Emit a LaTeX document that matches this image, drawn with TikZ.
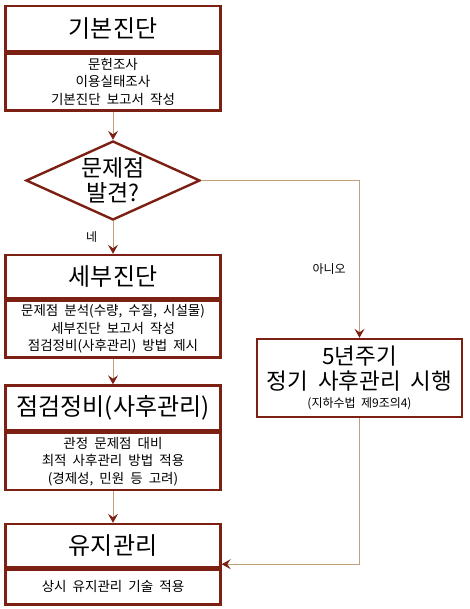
\documentclass[tikz,border=0pt]{standalone}
\usepackage{fontspec}
\setmainfont{Noto Sans CJK KR}[WordSpace=2]
\usetikzlibrary{shapes.geometric,arrows.meta,positioning}

\begin{document}
\begin{tikzpicture}[x=1pt, y=-1pt,
    stagehead/.style={draw=boxred, line width=2.4pt, fill=white, minimum width=215pt, inner sep=0pt, align=center, font=\fontsize{24}{25}\selectfont},
    stagebody/.style={draw=boxred, line width=2.4pt, fill=white, minimum width=215pt, inner sep=0pt, align=center, font=\fontsize{13.5}{17.5}\selectfont},
    flow/.style={draw=linetan, line width=0.9pt, -{Stealth[length=9pt, width=10pt, inset=3.5pt, color=boxred]}},
    flowlabel/.style={font=\fontsize{12}{14}\selectfont}
    ]
    \definecolor{boxred}{RGB}{125, 32, 20}
    \definecolor{linetan}{RGB}{195, 160, 125}
    \def\colx{113}
    \useasboundingbox (0, 0) rectangle (470, 609);
    \node[stagehead, minimum height=45pt] (base) at (\colx, 28.5) {기본진단};
    \node[stagebody, minimum height=57pt, below=0pt of base] (baseText) {문헌조사\\이용실태조사\\기본진단 보고서 작성};
    \node[draw=boxred, line width=2.4pt, shape=diamond, aspect=2.2, minimum width=174pt, minimum height=79pt, inner sep=-4pt, align=center, font=\fontsize{23}{25}\selectfont] (found) at (\colx, 180.5) {문제점\\발견?};
    \node[stagehead, minimum height=43pt] (detail) at (\colx, 276.5) {세부진단};
    \node[stagebody, minimum height=57pt, below=0pt of detail] (detailText) {문제점 분석(수량, 수질, 시설물)\\세부진단 보고서 작성\\점검정비(사후관리) 방법 제시};
    \node[stagehead, minimum height=45pt] (check) at (\colx, 408) {점검정비(사후관리)};
    \node[stagebody, minimum height=57pt, below=0pt of check] (checkText) {관정 문제점 대비\\최적 사후관리 방법 적용\\(경제성, 민원 등 고려)};
    \node[stagehead, minimum height=43pt] (keep) at (\colx, 545.5) {유지관리};
    \node[stagebody, minimum height=35pt, below=0pt of keep] (keepText) {상시 유지관리 기술 적용};
    \node[stagehead, minimum width=205pt, minimum height=78pt, font=\fontsize{22.5}{25}\selectfont] (cycle) at (359.5, 378) {5년주기\\정기 사후관리 시행\\[-7pt]{\fontsize{12}{13}\selectfont (지하수법 제9조의4)}};
    \draw[flow] (baseText) -- (found);
    \draw[flow] (found) -- node[flowlabel, left=12pt] {네} (detail);
    \draw[flow] (detailText) -- (check);
    \draw[flow] (checkText) -- (keep);
    \draw[flow] (found.east) -| node[flowlabel, pos=0.78, left=10pt] {아니오} (cycle.north);
    \draw[flow] (cycle.south) |- ([yshift=4pt]keep.south east);
\end{tikzpicture}
\end{document}
